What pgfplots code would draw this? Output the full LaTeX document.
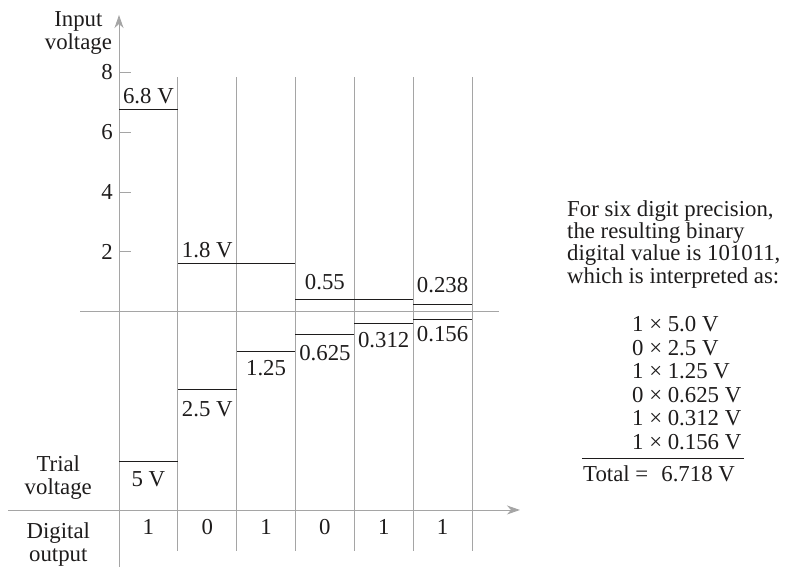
\documentclass[border=0pt]{standalone}
\usepackage{pgfplots}
\pgfplotsset{compat=1.18}
\usepackage{fontspec}
\setmainfont{Liberation Serif}
\usetikzlibrary{arrows.meta}
\definecolor{axgray}{RGB}{165,165,165}
\definecolor{ink}{RGB}{30,28,28}
\newcommand\F{\fontsize{22.8}{22.5}\selectfont}
\begin{document}
\F
\begin{tikzpicture}[every node/.style={font=\F, text=ink, inner sep=0pt}]
\begin{axis}[
  x=58.83pt, y=29.93pt,
  xmin=-2.0228, xmax=11.4058, ymin=-8.5299, ymax=10.4143,
  hide axis, clip=false, unbounded coords=jump,
]
% --- column separators
\addplot[axgray, line width=0.9pt] coordinates {
 (1,-7.99)(1,7.85)(1,nan)
 (2,-7.99)(2,7.85)(2,nan)
 (3,-7.99)(3,7.85)(3,nan)
 (4,-7.99)(4,7.85)(4,nan)
 (5,-7.99)(5,7.85)(5,nan)
 (6,-7.99)(6,7.85)};
% --- zero line
\addplot[axgray, line width=0.9pt] coordinates {(-0.66,0)(6.46,0)};
% --- vertical axis with arrow
\addplot[axgray, line width=0.9pt, -{Stealth[length=13pt,width=9pt,inset=4pt]}] coordinates {(0,-8.53)(0,9.913)};
% --- horizontal axis with arrow
\addplot[axgray, line width=0.9pt, -{Stealth[length=13pt,width=9pt,inset=4pt]}] coordinates {(-1.89,-6.625)(6.816,-6.625)};
% --- ticks
\addplot[axgray, line width=0.9pt] coordinates {
 (0,2)(0.204,2)(0,nan)
 (0,4)(0.204,4)(0,nan)
 (0,6)(0.204,6)(0,nan)
 (0,8)(0.204,8)};
% --- input voltage (remaining) levels
\addplot[ink, line width=1.0pt] coordinates {
 (0,6.762)(1,6.762)(1,nan)
 (1,1.617)(3,1.617)(3,nan)
 (3,0.424)(5,0.424)(5,nan)
 (5,0.257)(6,0.257)};
% --- trial voltage levels (drawn downward)
\addplot[ink, line width=1.0pt] coordinates {
 (0,-5.010)(1,-5.010)(1,nan)
 (1,-2.616)(2,-2.616)(2,nan)
 (2,-1.346)(3,-1.346)(3,nan)
 (3,-0.755)(4,-0.755)(4,nan)
 (4,-0.388)(5,-0.388)(5,nan)
 (5,-0.254)(6,-0.254)};
% --- tick labels
\node[anchor=east] at (axis cs:-0.102,8) {8};
\node[anchor=east] at (axis cs:-0.102,6) {6};
\node[anchor=east] at (axis cs:-0.102,4) {4};
\node[anchor=east] at (axis cs:-0.102,2) {2};
% --- axis titles
\node[anchor=base] at (axis cs:-0.69,9.522) {Input};
\node[anchor=base] at (axis cs:-0.69,8.744) {voltage};
\node[anchor=base] at (axis cs:-1.032,-5.346) {Trial};
\node[anchor=base] at (axis cs:-1.032,-6.124) {voltage};
\node[anchor=base] at (axis cs:-1.032,-7.570) {Digital};
\node[anchor=base] at (axis cs:-1.032,-8.330) {output};
% --- level labels
\node at (axis cs:0.5,7.200) {6.8 V};
\node at (axis cs:1.5,2.061) {1.8 V};
\node at (axis cs:3.5,0.979) {0.55};
\node at (axis cs:5.5,0.879) {0.238};
\node at (axis cs:0.5,-5.606) {5 V};
\node at (axis cs:1.5,-3.267) {2.5 V};
\node at (axis cs:2.5,-1.898) {1.25};
\node at (axis cs:3.5,-1.397) {0.625};
\node at (axis cs:4.5,-0.962) {0.312};
\node at (axis cs:5.5,-0.762) {0.156};
% --- digital output
\node at (axis cs:0.5,-7.194) {1};
\node at (axis cs:1.5,-7.194) {0};
\node at (axis cs:2.5,-7.194) {1};
\node at (axis cs:3.5,-7.194) {0};
\node at (axis cs:4.5,-7.194) {1};
\node at (axis cs:5.5,-7.194) {1};
% --- explanation
\node[anchor=base west] at (axis cs:7.615,3.197) {For six digit precision,};
\node[anchor=base west] at (axis cs:7.615,2.445) {the resulting binary};
\node[anchor=base west] at (axis cs:7.615,1.694) {digital value is 101011,};
\node[anchor=base west] at (axis cs:7.615,0.942) {which is interpreted as:};
\node[anchor=base west] at (axis cs:8.72,-0.672) {1 × 5.0 V};
\node[anchor=base west] at (axis cs:8.72,-1.457) {0 × 2.5 V};
\node[anchor=base west] at (axis cs:8.72,-2.242) {1 × 1.25 V};
\node[anchor=base west] at (axis cs:8.72,-3.027) {0 × 0.625 V};
\node[anchor=base west] at (axis cs:8.72,-3.812) {1 × 0.312 V};
\node[anchor=base west] at (axis cs:8.72,-4.597) {1 × 0.156 V};
\addplot[ink, line width=1.0pt] coordinates {(7.870,-4.921)(10.624,-4.921)};
\node[anchor=base west] at (axis cs:7.887,-5.680) {Total =};
\node[anchor=base east] at (axis cs:10.471,-5.680) {6.718 V};
\coordinate (BL) at (axis cs:-2.0228,-8.5299);
\coordinate (TR) at (axis cs:11.4058,10.4143);
\end{axis}
\pgfresetboundingbox
\path[use as bounding box] (BL) rectangle (TR);
\end{tikzpicture}
\end{document}
